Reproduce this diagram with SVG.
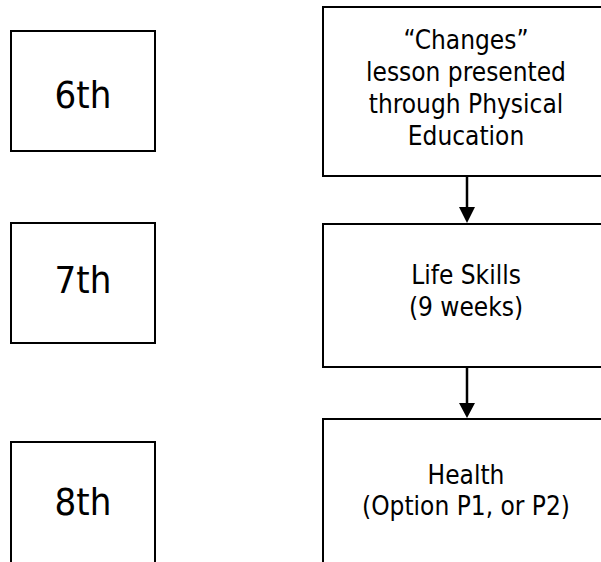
<svg xmlns="http://www.w3.org/2000/svg" width="601" height="562" viewBox="0 0 601 562">
<style>
.box{fill:#fff;stroke:#000;stroke-width:2}
.t{font-family:"DejaVu Sans Condensed","DejaVu Sans",sans-serif;font-stretch:condensed;fill:#000;text-anchor:middle}
.g{font-size:38px}
.s{font-size:26px}
.conn{stroke:#000;stroke-width:2.5;fill:none}
.head{fill:#000}
</style>
<rect width="601" height="562" fill="#fff"/>
<g id="grade6">
<rect class="box" x="11" y="31" width="144" height="120"/>
<text class="t g" x="83" y="108">6th</text>
</g>
<g id="grade7">
<rect class="box" x="11" y="223" width="144" height="120"/>
<text class="t g" x="83" y="293">7th</text>
</g>
<g id="grade8">
<rect class="box" x="11" y="442" width="144" height="140"/>
<text class="t g" x="83" y="515">8th</text>
</g>
<g id="changes">
<rect class="box" x="323" y="7" width="300" height="169"/>
<text class="t s" x="466"><tspan x="466" y="49">“Changes”</tspan><tspan x="466" y="81">lesson presented</tspan><tspan x="466" y="113">through Physical</tspan><tspan x="466" y="145">Education</tspan></text>
</g>
<g id="lifeskills">
<rect class="box" x="323" y="224" width="300" height="143"/>
<text class="t s" x="466"><tspan x="466" y="284">Life Skills</tspan><tspan x="466" y="316">(9 weeks)</tspan></text>
</g>
<g id="health">
<rect class="box" x="323" y="419" width="300" height="170"/>
<text class="t s" x="466"><tspan x="466" y="484">Health</tspan><tspan x="466" y="515">(Option P1, or P2)</tspan></text>
</g>
<g id="connectors">
<line class="conn" x1="467" y1="177" x2="467" y2="208"/>
<polygon class="head" points="459,207 475,207 467,223"/>
<line class="conn" x1="467" y1="368" x2="467" y2="404"/>
<polygon class="head" points="459,403 475,403 467,418"/>
</g>
</svg>
